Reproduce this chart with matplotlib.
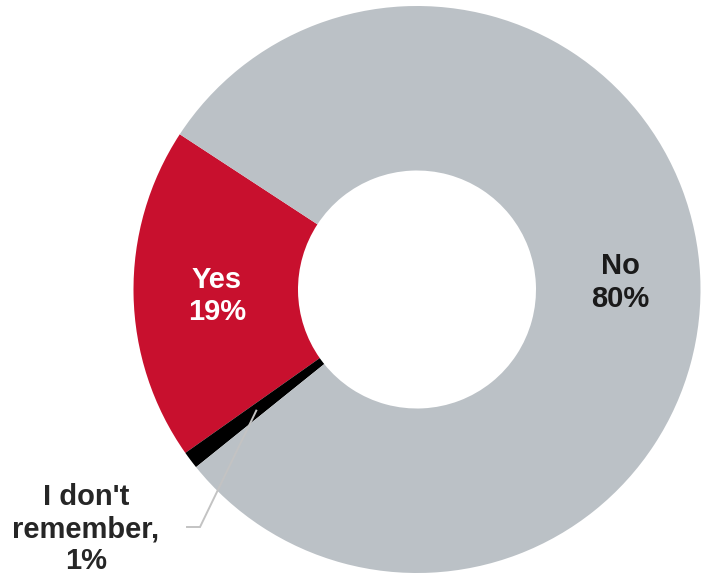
import numpy as np
import matplotlib
matplotlib.use("Agg")
import matplotlib.pyplot as plt

plt.rcParams['font.family'] = ['Liberation Sans', 'DejaVu Sans']

categories = ["Yes", "I don't remember", "No"]
values = [19, 1, 80]
labels = ["Yes\n19%", "I don't\nremember,\n1%", "No\n80%"]
colors = ["#C8102E", "#000000", "#BBC1C6"]

W, H = 701, 575
fig = plt.figure(figsize=(W / 100, H / 100), dpi=100)
ax = fig.add_axes([0, 0, 1, 1])

cx, cy = 417, H - 289.5
R = 283.5
width = 164.5
start = 146.8

wedges, _ = ax.pie(values, colors=colors, startangle=start, counterclock=True,
                   radius=R, center=(cx, cy),
                   wedgeprops=dict(width=width, linewidth=0))
ax.set_xlim(0, W)
ax.set_ylim(0, H)
ax.set_aspect('equal')
ax.axis('off')

rmid = R - width / 2
fs = 21
ls = 1.2
for i, w in enumerate(wedges):
    ang = np.deg2rad((w.theta1 + w.theta2) / 2)
    x = cx + rmid * np.cos(ang)
    y = cy + rmid * np.sin(ang)
    if categories[i] == "Yes":
        ax.text(x + 1, y - 3, labels[i], ha='center', va='center', color='white',
                fontsize=fs, fontweight='bold', linespacing=ls)
    elif categories[i] == "No":
        ax.text(x + 2, y - 3, labels[i], ha='center', va='center', color='#1a1a1a',
                fontsize=fs, fontweight='bold', linespacing=ls)
    else:
        ex, ey = 200, H - 527
        ax.plot([x, ex, 187], [y, ey, ey], color='#c3c3c3', lw=1.4,
                solid_joinstyle='miter')
        ax.text(86, H - 529, labels[i], ha='center', va='center', color='#262626',
                fontsize=fs, fontweight='bold', linespacing=ls)

fig.savefig("out.png", dpi=100)
